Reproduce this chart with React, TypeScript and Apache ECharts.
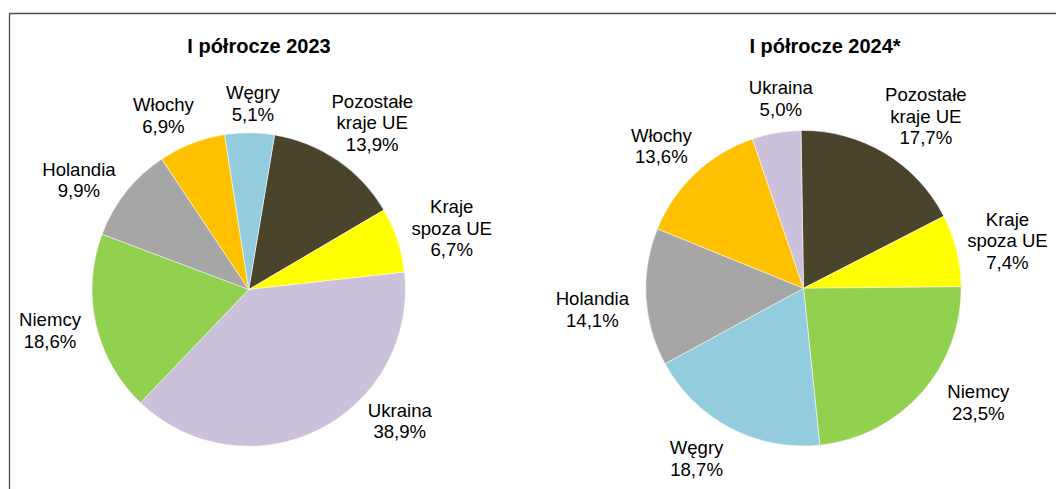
import React, { useEffect, useRef } from 'react';
import * as echarts from 'echarts';

const titles = ['I półrocze 2023', 'I półrocze 2024*'];

const categories2023 = ['Pozostałe\nkraje UE', 'Kraje\nspoza UE', 'Ukraina', 'Niemcy', 'Holandia', 'Włochy', 'Węgry'];
const values2023 = [13.9, 6.7, 38.9, 18.6, 9.9, 6.9, 5.1];

const categories2024 = ['Pozostałe\nkraje UE', 'Kraje\nspoza UE', 'Niemcy', 'Węgry', 'Holandia', 'Włochy', 'Ukraina'];
const values2024 = [17.7, 7.4, 23.5, 18.7, 14.1, 13.6, 5.0];

const countryColors: Record<string, string> = {
  'Pozostałe\nkraje UE': '#4A442D',
  'Kraje\nspoza UE': '#FFFF00',
  Ukraina: '#CCC1DA',
  Niemcy: '#92D050',
  Holandia: '#A6A6A6',
  Włochy: '#FFC000',
  Węgry: '#93CDDD',
};

// layout (pixels)
const pieLayouts = [
  { cx: 248.75, cy: 289.5, r: 156.75, firstAngle: 9.5, titleX: 254 },
  { cx: 803.5, cy: 288.25, r: 157.75, firstAngle: -0.9, titleX: 820 },
];
const labelGap = 12;
const labelNudge2023 = [[4.7, -1], [4.6, 2.3], [62, -39], [-4, -1], [-9, 9], [-13, 3.5], [3, 4]];
const labelNudge2024 = [[14, 1], [0, 1], [25, -13], [-15.5, 1], [-5, 10.6], [-4.6, -3.2], [12, -1.3]];

const FONT = "'Liberation Sans', Arial, sans-serif";

const fmt = (v: number) => v.toFixed(1).replace('.', ',');

function makeSeries(idx: number, cats: string[], vals: number[], nudges: number[][]) {
  const L = pieLayouts[idx];
  const total = vals.reduce((a, b) => a + b, 0);
  return {
    type: 'pie',
    center: [L.cx, L.cy],
    radius: L.r,
    startAngle: 90 - L.firstAngle,
    clockwise: true,
    avoidLabelOverlap: false,
    silent: true,
    itemStyle: { borderColor: '#ffffff', borderWidth: 0.5 },
    label: {
      show: true,
      position: 'outside',
      color: '#000000',
      fontFamily: FONT,
      fontSize: 18.6,
      lineHeight: 21.5,
      formatter: (p: any) => `${p.name}\n${fmt(p.value)}%`,
    },
    labelLine: { show: false },
    labelLayout: (p: any) => {
      const i = p.dataIndex;
      let cum = 0;
      for (let k = 0; k < i; k++) cum += vals[k];
      const theta = ((L.firstAngle + (360 * (cum + vals[i] / 2)) / total) * Math.PI) / 180;
      const ux = Math.sin(theta);
      const uy = -Math.cos(theta);
      const R = L.r + labelGap;
      const w = p.labelRect.width;
      const h = p.labelRect.height;
      return {
        x: L.cx + R * ux + (w / 2) * ux + nudges[i][0],
        y: L.cy + R * uy + (h / 2) * uy + nudges[i][1],
        align: 'center',
        verticalAlign: 'middle',
      };
    },
    data: cats.map((c, i) => ({ name: c, value: vals[i], itemStyle: { color: countryColors[c] } })),
  };
}

export default function App() {
  const ref = useRef<HTMLDivElement>(null);
  useEffect(() => {
    if (!ref.current) return;
    const chart = echarts.init(ref.current, undefined, { renderer: 'svg' });
    chart.setOption({
      animation: false,
      backgroundColor: '#ffffff',
      title: titles.map((t, i) => ({
        text: t,
        left: pieLayouts[i].titleX,
        top: 29,
        textAlign: 'center',
        textStyle: { fontFamily: FONT, fontSize: 20, fontWeight: 'bold', color: '#000000', lineHeight: 24 },
      })),
      graphic: [
        {
          type: 'rect',
          shape: { x: 9.5, y: 13.5, width: 1200, height: 700 },
          style: { fill: 'none', stroke: '#4d4d4d', lineWidth: 1.3 },
          silent: true,
        },
      ],
      series: [
        makeSeries(0, categories2023, values2023, labelNudge2023),
        makeSeries(1, categories2024, values2024, labelNudge2024),
      ],
    });
    return () => chart.dispose();
  }, []);
  return <div ref={ref} style={{ position: 'fixed', left: 0, top: 0, width: 1056, height: 489 }} />;
}
